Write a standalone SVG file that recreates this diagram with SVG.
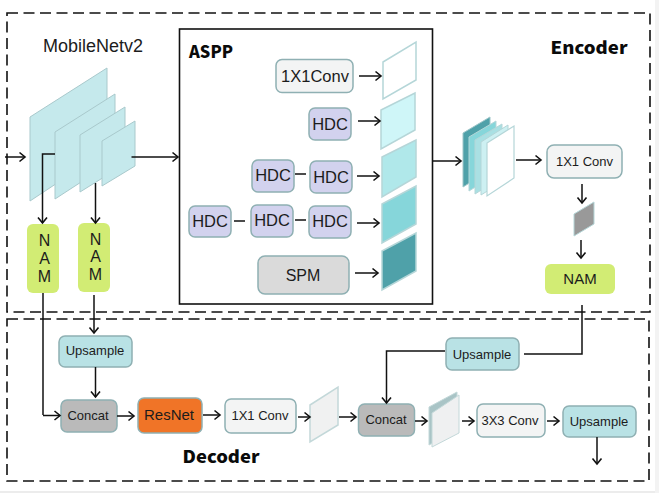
<svg xmlns="http://www.w3.org/2000/svg" width="659" height="493" viewBox="0 0 659 493">
<style>
text{font-family:"Liberation Sans",Arial,sans-serif;fill:#1c1c1c;text-anchor:middle}
.bold{font-family:"Noto Sans CJK SC","DejaVu Sans",sans-serif;font-weight:900;fill:#0a0a0a}
.dash{fill:none;stroke:#111;stroke-width:1.6;stroke-dasharray:11 5.5}
.c{fill:none;stroke:#111;stroke-width:1.5}
.a{marker-end:url(#arrow)}
.box{stroke:#8fb0b3;stroke-width:1.5}
.light{fill:#f3f4f4}.hdc{fill:#d2d2ee}.up{fill:#b9e2e5}.gray{fill:#bababa}.nam{fill:#d2ec74;stroke:none}
.mob{fill:#c5e9ec;stroke:#a9c9cc;stroke-width:1}
.slab{stroke:#b5d6d8;stroke-width:1.5}
.t13{font-size:13px}.t12{font-size:12px}.t15{font-size:15px}.t16{font-size:16px}.t17{font-size:16.500px}
</style>
<defs>
<marker id="arrow" markerUnits="userSpaceOnUse" markerWidth="10" markerHeight="12" refX="7.5" refY="6" orient="auto">
<path d="M2 1.500L7.500 6L2 10.500" fill="none" stroke="#111" stroke-width="1.6"/>
</marker>
</defs>
<rect width="659" height="493" fill="#fff"/>
<rect x="0" y="491" width="659" height="2" fill="#ececec"/>
<rect x="655" y="0" width="4" height="493" fill="#f3f3f3"/>
<rect class="dash" x="7" y="13" width="643" height="299"/>
<rect class="dash" x="7" y="319" width="642" height="162"/>
<rect x="179.500" y="29" width="253" height="275" fill="#fff" stroke="#111" stroke-width="1.6"/>
<text x="93" y="52" style="font-size:18px">MobileNetv2</text>
<text class="bold" x="211" y="58" style="font-size:17px" textLength="44" lengthAdjust="spacingAndGlyphs">ASPP</text>
<text class="bold" x="589" y="54" style="font-size:17px" textLength="77" lengthAdjust="spacingAndGlyphs">Encoder</text>
<text class="bold" x="221" y="463" style="font-size:17px" textLength="77" lengthAdjust="spacingAndGlyphs">Decoder</text>
<g id="mobilenet">
<path class="mob" d="M30 117L107 68V150L30 201Z"/>
<path class="mob" d="M55 132L115 94V160L55 199Z"/>
<path class="mob" d="M80 135L125 107V164L80 192Z"/>
<path class="mob" d="M102 141L135 121V166L102 186Z"/>
</g>
<g id="nam1"><rect class="nam" x="27" y="224" width="32" height="69" rx="6"/><text class="t16" x="44.500" y="246">N</text><text class="t16" x="44.500" y="264">A</text><text class="t16" x="44.500" y="282">M</text></g>
<g id="nam2"><rect class="nam" x="78" y="223" width="32" height="69" rx="6"/><text class="t16" x="95.500" y="245">N</text><text class="t16" x="95.500" y="262">A</text><text class="t16" x="95.500" y="280">M</text></g>
<g id="conv1x1"><rect class="box light" x="276" y="59.500" width="77" height="33" rx="6"/><text class="t17" x="315" y="82">1X1Conv</text></g>
<g id="hdc1"><rect class="box hdc" x="309" y="108" width="42" height="32" rx="6"/><text class="t17" x="330" y="130">HDC</text></g>
<g id="hdc2"><rect class="box hdc" x="252" y="160" width="42" height="32" rx="6"/><text class="t17" x="273" y="181">HDC</text></g>
<g id="hdc3"><rect class="box hdc" x="310" y="161" width="42" height="32" rx="6"/><text class="t17" x="331" y="183">HDC</text></g>
<g id="hdc4"><rect class="box hdc" x="189" y="206" width="42" height="31" rx="6"/><text class="t17" x="210" y="227">HDC</text></g>
<g id="hdc5"><rect class="box hdc" x="251" y="205" width="42" height="32" rx="6"/><text class="t17" x="272" y="226">HDC</text></g>
<g id="hdc6"><rect class="box hdc" x="309" y="206" width="42" height="32" rx="6"/><text class="t17" x="330" y="227">HDC</text></g>
<g id="spm"><rect class="box" fill="#dadada" x="258" y="256" width="91" height="38" rx="7"/><text class="t16" x="303" y="281">SPM</text></g>
<g id="aspp-slabs">
<path class="slab" fill="#fff" d="M383 62L416 42V80L383 99Z"/>
<path class="slab" fill="#cff6f8" d="M381 110L415 93V130L381 149Z"/>
<path class="slab" fill="#b0e8ea" d="M382 157L416 140V177L382 197Z"/>
<path class="slab" fill="#86d6da" d="M382 204L416 186V224L382 243Z"/>
<path class="slab" fill="#4fa1a9" d="M382 251L416 233V271L382 290Z"/>
</g>
<g id="stack">
<path fill="#4fa1a9" stroke="#9fc6c9" d="M463 133L490 117V170L463 187Z"/>
<path fill="#86d6da" stroke="#b5d6d8" d="M469 137L496 121V174L469 191Z"/>
<path fill="#a9e0e3" stroke="#b5d6d8" d="M475 140L502 124V177L475 194Z"/>
<path fill="#cdf0f2" stroke="#b5d6d8" d="M481 142L508 125V178L481 195Z"/>
<path fill="#fff" stroke="#b5d6d8" stroke-width="1.200" d="M487 143L514 126V178L487 196Z"/>
</g>
<g id="conv1x1b"><rect class="box light" x="547" y="145" width="75" height="33" rx="7"/><text class="t13" x="584.500" y="166">1X1 Conv</text></g>
<path id="graybox" fill="#999" stroke="#b5d6d8" d="M574 214L594 202V224L574 236Z"/>
<g id="nam3"><rect class="nam" x="545" y="264" width="70" height="30" rx="6"/><text class="t15" x="580" y="284">NAM</text></g>
<g id="up1"><rect class="box up" x="59" y="336" width="73" height="31" rx="6"/><text class="t13" x="95" y="355">Upsample</text></g>
<g id="concat1"><rect class="box gray" x="61" y="400" width="56" height="32" rx="6"/><text class="t13" x="88" y="420">Concat</text></g>
<g id="resnet"><rect x="138" y="398" width="64" height="35" rx="6" fill="#f07427" stroke="#8fb0b3" stroke-width="1.500"/><text class="t15" x="169" y="420">ResNet</text></g>
<g id="conv1x1c"><rect class="box light" x="225" y="399" width="71" height="34" rx="6"/><text class="t13" x="260" y="420">1X1 Conv</text></g>
<path id="slab1" fill="#f0f1f1" stroke="#c3d8d9" stroke-width="1.500" d="M310 405L338 387V425L310 442Z"/>
<g id="up2"><rect class="box up" x="446" y="338" width="73" height="32" rx="6"/><text class="t13" x="482" y="359">Upsample</text></g>
<g id="concat2"><rect class="box gray" x="358.500" y="404" width="56" height="32" rx="6"/><text class="t13" x="386" y="424">Concat</text></g>
<g id="slab2"><path fill="#a9c4c6" stroke="#c3d8d9" d="M429 407L457 392V430L429 445Z"/><path fill="#eff0f1" stroke="#c3d8d9" d="M432 413L459 395V433L432 447Z"/></g>
<g id="conv3x3"><rect class="box light" x="477" y="404" width="68" height="33" rx="6"/><text class="t13" x="510" y="425">3X3 Conv</text></g>
<g id="up3"><rect class="box up" x="563" y="406" width="73" height="31" rx="6"/><text class="t13" x="599" y="426">Upsample</text></g>
<g id="connectors">
<path class="c a" d="M5 157H25"/>
<path class="c a" d="M55 154H42.500V223"/>
<path class="c a" d="M95.500 183V223"/>
<path class="c a" d="M131.500 157H178"/>
<path class="c a" d="M359 76H381"/>
<path class="c a" d="M358 121H380"/>
<path class="c" d="M295 174H306"/>
<path class="c a" d="M357 176H379"/>
<path class="c" d="M234 221H245"/>
<path class="c" d="M295 220H306"/>
<path class="c a" d="M357 223H379"/>
<path class="c a" d="M355 273H378"/>
<path class="c a" d="M433 161H461"/>
<path class="c a" d="M516 160H541"/>
<path class="c a" d="M582 184V203"/>
<path class="c a" d="M581 240V258"/>
<path class="c" d="M582 305V354H524"/>
<path class="c a" d="M445 351H386.500V403"/>
<path class="c" d="M43 293V415"/>
<path class="c a" d="M43 415.500H60"/>
<path class="c a" d="M94 295V333"/>
<path class="c a" d="M95.500 367V397"/>
<path class="c a" d="M117 416H134"/>
<path class="c a" d="M203 415H220"/>
<path class="c a" d="M298 417H310"/>
<path class="c a" d="M339 417H356"/>
<path class="c a" d="M415 421H427"/>
<path class="c a" d="M462 421H474"/>
<path class="c a" d="M547 421H559"/>
<path class="c a" d="M597 437V464"/>
</g>
</svg>
